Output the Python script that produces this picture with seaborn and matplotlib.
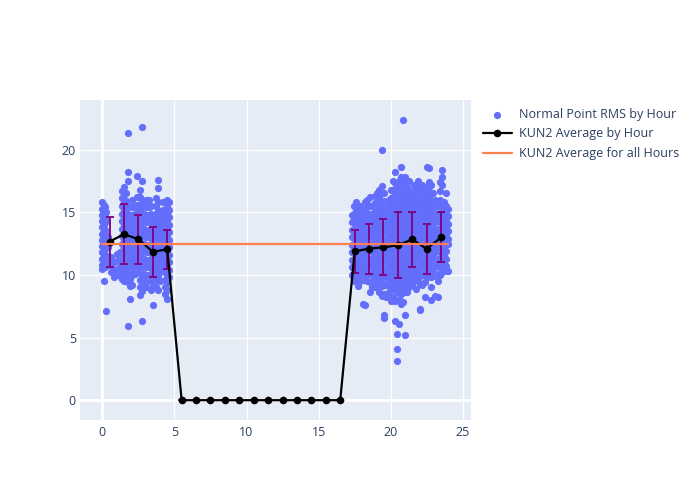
import matplotlib
matplotlib.use("Agg")
import matplotlib.pyplot as plt
import seaborn as sns
import numpy as np
import pandas as pd

# ---------------- data ----------------
# Normal point RMS, grouped in columns of nearly equal hour
cluster1_hours = [0.00, 0.08, 0.16, 0.26, 0.38, 0.60, 0.80, 1.00, 1.20, 1.35,
                  1.48, 1.62, 1.78, 1.92, 2.08, 2.25, 2.42, 2.58, 2.74, 2.90,
                  3.06, 3.22, 3.38, 3.54, 3.70, 3.86, 4.02, 4.18, 4.34, 4.50, 4.64]
cluster1_rms = [
    [15.8, 15.3, 14.8, 14.3, 13.8, 13.3, 12.8, 12.3, 11.8, 11.3, 10.8, 10.5],
    [15.6, 15.0, 14.5, 14.0, 13.5, 13.0, 12.5, 12.0, 11.5, 11.0, 9.5],
    [15.4, 14.7, 14.2, 13.6, 13.1, 12.6, 12.1, 11.6, 11.1, 10.6],
    [15.0, 14.3, 13.3, 12.4, 11.4, 10.9, 7.1],
    [13.0, 12.2, 11.5, 10.8],
    [11.4, 10.8, 10.2],
    [11.0, 10.4, 9.8],
    [11.7, 11.1, 10.5, 10.0],
    [11.8, 11.2, 10.6, 10.1],
    [16.7, 16.1, 15.5, 14.9, 14.3, 13.7, 13.1, 12.5, 11.9, 11.3, 10.7, 10.1, 9.7],
    [17.0, 16.4, 15.8, 15.2, 14.6, 14.0, 13.4, 12.8, 12.2, 11.6, 11.0, 10.4, 9.5],
    [16.5, 15.9, 15.3, 14.7, 14.1, 13.5, 12.9, 12.3, 11.7, 11.1, 10.5, 9.9],
    [18.2, 17.5, 15.5, 14.9, 14.3, 13.7, 13.1, 12.5, 11.9, 11.3, 10.7, 10.1, 9.4, 21.3, 5.9],
    [14.5, 13.9, 13.3, 12.7, 12.1, 11.5, 10.9, 10.3, 9.7, 9.1, 8.1],
    [16.0, 15.4, 14.8, 14.2, 13.6, 13.0, 12.4, 11.8, 11.2, 10.6, 10.0, 9.2],
    [15.5, 14.9, 14.3, 13.7, 13.1, 12.5, 11.9, 11.3, 10.7, 10.1],
    [17.9, 16.2, 15.6, 15.0, 14.4, 13.8, 13.2, 12.6, 12.0, 11.4, 10.8, 10.3],
    [16.8, 16.2, 15.6, 15.0, 14.4, 13.8, 13.2, 12.6, 12.0, 11.4, 10.8, 10.2, 9.6, 9.0, 8.4],
    [17.5, 16.0, 15.4, 14.8, 14.2, 13.6, 13.0, 12.4, 11.8, 11.2, 10.6, 10.0, 9.4, 8.7, 21.8, 6.3],
    [15.5, 14.9, 14.3, 13.7, 13.1, 12.5, 11.9, 11.3, 10.7, 10.1, 9.5],
    [16.0, 15.4, 14.8, 14.2, 13.6, 13.0, 12.4, 11.8, 11.2, 10.6, 10.0, 9.4, 9.0],
    [16.0, 15.4, 14.8, 14.2, 13.6, 13.0, 12.4, 11.8, 11.2, 10.6, 10.0],
    [15.5, 14.9, 14.3, 13.7, 13.1, 12.5, 11.9, 11.3, 10.7, 10.1, 9.5, 8.8],
    [14.5, 13.9, 13.3, 12.7, 12.1, 11.5, 10.9, 10.3, 9.7, 9.1, 7.6],
    [16.1, 15.5, 14.9, 14.3, 13.7, 13.1, 12.5, 11.9, 11.3, 10.7, 10.1, 9.5, 9.0],
    [17.6, 16.9, 15.8, 15.2, 14.6, 14.0, 13.4, 12.8, 12.2, 11.6, 11.0, 10.4, 9.8, 8.8],
    [15.0, 14.4, 13.8, 13.2, 12.6, 12.0, 11.4, 10.8, 10.2, 9.5],
    [15.8, 15.2, 14.6, 14.0, 13.4, 12.8, 12.2, 11.6, 11.0, 10.4],
    [15.0, 14.4, 13.8, 13.2, 12.6, 12.0, 11.4, 10.8, 10.2, 9.6, 9.0, 8.5],
    [16.0, 15.4, 14.8, 14.2, 13.6, 13.0, 12.4, 11.8, 11.2, 10.6, 10.0, 9.4, 8.8, 8.1],
    [15.8, 15.2, 14.6, 14.0, 13.4, 12.8, 12.2, 11.6, 11.0, 10.4, 9.8],
]

cluster2_hours = [17.30, 17.45, 17.60, 17.75, 17.90, 18.05, 18.20, 18.38, 18.55, 18.72,
                  18.90, 19.05, 19.22, 19.40, 19.55, 19.70, 19.85, 20.00, 20.15, 20.30,
                  20.42, 20.55, 20.70, 20.85, 21.00, 21.15, 21.30, 21.45, 21.60, 21.75,
                  21.90, 22.05, 22.20, 22.35, 22.50, 22.65, 22.80, 22.95, 23.10, 23.25,
                  23.40, 23.55, 23.70, 23.85, 24.00]
cluster2_rms = [
    [14.8, 14.2, 13.6, 13.0, 12.4, 11.8, 11.2, 10.6, 10.0],
    [15.5, 14.9, 14.3, 13.7, 13.1, 12.5, 11.9, 11.3, 10.7, 10.1, 9.5],
    [15.8, 15.1, 14.5, 13.9, 13.3, 12.7, 12.1, 11.5, 10.9, 10.3, 9.8],
    [15.2, 14.6, 14.0, 13.4, 12.8, 12.2, 11.6, 11.0, 10.4, 9.8, 9.1],
    [15.5, 14.8, 14.2, 13.6, 13.0, 12.4, 11.8, 11.2, 10.6, 10.0, 9.5],
    [15.0, 14.4, 13.8, 13.2, 12.6, 12.0, 11.4, 10.8, 10.2, 9.6, 7.7],
    [15.8, 15.1, 14.5, 13.9, 13.3, 12.7, 12.1, 11.5, 10.9, 10.3, 9.7, 7.6],
    [16.0, 15.4, 14.8, 14.2, 13.6, 13.0, 12.4, 11.8, 11.2, 10.6, 10.0, 9.5],
    [16.2, 15.5, 14.9, 14.3, 13.7, 13.1, 12.5, 11.9, 11.3, 10.7, 10.1, 9.4, 8.6],
    [15.5, 14.8, 14.2, 13.6, 13.0, 12.4, 11.8, 11.2, 10.6, 10.0, 9.4, 9.0],
    [16.3, 15.7, 15.1, 14.5, 13.9, 13.3, 12.7, 12.1, 11.5, 10.9, 10.3, 9.7, 9.0],
    [16.5, 15.8, 15.2, 14.6, 14.0, 13.4, 12.8, 12.2, 11.6, 11.0, 10.4, 9.8, 9.2],
    [16.8, 16.2, 15.5, 14.9, 14.3, 13.7, 13.1, 12.5, 11.9, 11.3, 10.7, 10.1, 9.5, 8.6],
    [17.1, 16.5, 15.8, 15.2, 14.6, 14.0, 13.4, 12.8, 12.2, 11.6, 11.0, 10.4, 9.8, 9.1, 8.3, 20.0],
    [16.5, 15.9, 15.3, 14.7, 14.1, 13.5, 12.9, 12.3, 11.7, 11.1, 10.5, 9.9, 9.3, 8.5, 6.6, 6.8],
    [15.8, 15.2, 14.6, 14.0, 13.4, 12.8, 12.2, 11.6, 11.0, 10.4, 9.8, 9.2, 8.2],
    [16.0, 15.4, 14.8, 14.2, 13.6, 13.0, 12.4, 11.8, 11.2, 10.6, 10.0, 9.4, 8.6],
    [16.8, 16.1, 15.5, 14.9, 14.3, 13.7, 13.1, 12.5, 11.9, 11.3, 10.7, 10.1, 9.5, 8.9, 7.9],
    [17.5, 16.8, 16.2, 15.6, 15.0, 14.4, 13.8, 13.2, 12.6, 12.0, 11.4, 10.8, 10.2, 9.6, 9.0, 8.2],
    [18.2, 17.3, 16.6, 16.0, 15.4, 14.8, 14.2, 13.6, 13.0, 12.4, 11.8, 11.2, 10.6, 10.0, 9.4, 8.8, 7.9, 6.3],
    [17.0, 16.4, 15.8, 15.2, 14.6, 14.0, 13.4, 12.8, 12.2, 11.6, 11.0, 10.4, 9.8, 9.2, 8.6, 3.1, 4.1, 5.3],
    [17.5, 16.9, 16.2, 15.6, 15.0, 14.4, 13.8, 13.2, 12.6, 12.0, 11.4, 10.8, 10.2, 9.6, 9.0, 8.1, 6.1],
    [18.6, 17.8, 17.1, 16.4, 15.8, 15.2, 14.6, 14.0, 13.4, 12.8, 12.2, 11.6, 11.0, 10.4, 9.8, 9.2, 8.5, 7.7],
    [17.3, 16.6, 16.0, 15.4, 14.8, 14.2, 13.6, 13.0, 12.4, 11.8, 11.2, 10.6, 10.0, 9.4, 8.8, 7.8, 22.4],
    [17.8, 17.2, 16.5, 15.9, 15.3, 14.7, 14.1, 13.5, 12.9, 12.3, 11.7, 11.1, 10.5, 9.9, 9.3, 8.6, 5.2, 6.8],
    [17.0, 16.3, 15.7, 15.1, 14.5, 13.9, 13.3, 12.7, 12.1, 11.5, 10.9, 10.3, 9.7, 9.1, 8.6],
    [17.5, 16.8, 16.2, 15.6, 15.0, 14.4, 13.8, 13.2, 12.6, 12.0, 11.4, 10.8, 10.2, 9.6, 9.0],
    [16.5, 15.9, 15.3, 14.7, 14.1, 13.5, 12.9, 12.3, 11.7, 11.1, 10.5, 9.9, 9.2],
    [17.2, 16.6, 16.0, 15.4, 14.8, 14.2, 13.6, 13.0, 12.4, 11.8, 11.2, 10.6, 10.0, 9.5],
    [16.8, 16.2, 15.6, 15.0, 14.4, 13.8, 13.2, 12.6, 12.0, 11.4, 10.8, 10.2, 9.6, 8.9],
    [17.5, 16.9, 16.3, 15.7, 15.1, 14.5, 13.9, 13.3, 12.7, 12.1, 11.5, 10.9, 10.3, 9.7],
    [16.5, 15.9, 15.3, 14.7, 14.1, 13.5, 12.9, 12.3, 11.7, 11.1, 10.5, 9.9, 9.3, 7.3, 7.2],
    [17.2, 16.6, 16.0, 15.4, 14.8, 14.2, 13.6, 13.0, 12.4, 11.8, 11.2, 10.6, 10.0, 9.2],
    [16.8, 16.1, 15.5, 14.9, 14.3, 13.7, 13.1, 12.5, 11.9, 11.3, 10.7, 10.1, 9.4, 8.2],
    [18.6, 17.0, 16.4, 15.8, 15.2, 14.6, 14.0, 13.4, 12.8, 12.2, 11.6, 11.0, 10.4, 9.8],
    [18.5, 17.4, 16.7, 16.1, 15.5, 14.9, 14.3, 13.7, 13.1, 12.5, 11.9, 11.3, 10.7, 10.1],
    [17.2, 16.5, 15.9, 15.3, 14.7, 14.1, 13.5, 12.9, 12.3, 11.7, 11.1, 10.5, 9.8, 9.0, 8.0],
    [16.5, 15.9, 15.3, 14.7, 14.1, 13.5, 12.9, 12.3, 11.7, 11.1, 10.5, 9.9],
    [16.0, 15.4, 14.8, 14.2, 13.6, 13.0, 12.4, 11.8, 11.2, 10.6, 10.0, 8.3],
    [15.5, 14.9, 14.3, 13.7, 13.1, 12.5, 11.9, 11.3, 10.7, 10.1, 9.5, 8.2],
    [17.4, 16.7, 16.0, 15.4, 14.8, 14.2, 13.6, 13.0, 12.4, 11.8, 11.2, 10.6, 10.0],
    [18.4, 17.8, 17.2, 15.6, 15.0, 14.4, 13.8, 13.2, 12.6, 12.0, 11.4, 10.8, 10.2],
    [15.8, 15.2, 14.6, 14.0, 13.4, 12.8, 12.2, 11.6, 11.0],
    [16.5, 15.5, 14.9, 14.3, 13.7, 13.1, 12.5, 11.9, 11.3, 10.7, 10.3],
    [15.3, 14.7, 14.1, 13.5, 12.9, 12.5, 10.3],
]

# Hourly averages and standard deviations
avg_hours = [0.5, 1.5, 2.5, 3.5, 4.5, 5.5, 6.5, 7.5, 8.5, 9.5, 10.5, 11.5,
             12.5, 13.5, 14.5, 15.5, 16.5, 17.5, 18.5, 19.5, 20.5, 21.5, 22.5, 23.5]
avg_rms = [12.66, 13.25, 12.85, 11.84, 12.05, 0, 0, 0, 0, 0, 0, 0,
           0, 0, 0, 0, 0, 11.87, 12.10, 12.20, 12.37, 12.83, 12.08, 13.00]
std_rms = [2.00, 2.40, 1.95, 2.02, 1.56, 0, 0, 0, 0, 0, 0, 0,
           0, 0, 0, 0, 0, 1.72, 2.00, 2.24, 2.63, 2.16, 2.02, 2.00]

overall_avg = 12.43

x_ticks = [0, 5, 10, 15, 20, 25]
y_ticks = [0, 5, 10, 15, 20]

series_labels = ["Normal Point RMS by Hour", "KUN2 Average by Hour", "KUN2 Average for all Hours"]

# ---------------- build tables ----------------
pts_h, pts_v = [], []
for hrs, vals in ((cluster1_hours, cluster1_rms), (cluster2_hours, cluster2_rms)):
    for h, col in zip(hrs, vals):
        pts_h.extend([h] * len(col))
        pts_v.extend(col)
points = pd.DataFrame({"hour": pts_h, "rms": pts_v})
avg_df = pd.DataFrame({"hour": avg_hours, "rms": avg_rms, "std": std_rms})
overall_df = pd.DataFrame({"hour": [min(pts_h), max(pts_h)], "rms": [overall_avg, overall_avg]})

# ---------------- style ----------------
sns.set_style("darkgrid", {"axes.facecolor": "#E5ECF6", "grid.color": "white"})
plt.rcParams["font.family"] = ["Open Sans", "DejaVu Sans"]
txt_color = "#2a3f5f"

fig = plt.figure(figsize=(7, 5), dpi=100)
ax = fig.add_axes([80 / 700, 80 / 500, 391 / 700, 320 / 500])
ax.set_facecolor("#E5ECF6")

sns.scatterplot(data=points, x="hour", y="rms", ax=ax, color="#636EFA", s=27,
                linewidth=0, alpha=1.0, label=series_labels[0], zorder=2)
ax.errorbar(avg_df["hour"], avg_df["rms"], yerr=avg_df["std"], fmt="none",
            ecolor="#800080", elinewidth=1.3, capsize=3.2, capthick=1.3, zorder=3)
sns.lineplot(data=avg_df, x="hour", y="rms", ax=ax, color="black", linewidth=1.6,
             marker="o", markersize=5.5, markeredgewidth=0, label=series_labels[1],
             zorder=4, sort=False)
sns.lineplot(data=overall_df, x="hour", y="rms", ax=ax, color="#FF7F50", linewidth=1.6,
             label=series_labels[2], zorder=5, sort=False)

ax.set_xlim(-1.55, 25.57)
ax.set_ylim(-1.58, 23.96)
ax.set_xticks(x_ticks)
ax.set_yticks(y_ticks)
ax.grid(True, color="white", linewidth=1.0)
ax.axhline(0, color="white", linewidth=2.0, zorder=1)
ax.axvline(0, color="white", linewidth=2.0, zorder=1)
ax.set_axisbelow(True)
for s in ax.spines.values():
    s.set_visible(False)
ax.tick_params(axis="both", length=0, labelsize=9, colors=txt_color)
ax.tick_params(axis="x", pad=4)
ax.tick_params(axis="y", pad=3)
ax.set_xlabel("")
ax.set_ylabel("")

handles, labels = ax.get_legend_handles_labels()
ax.legend_.remove()
fig.legend(handles, labels, loc="upper left", bbox_to_anchor=(483 / 700, 1 - 108 / 500),
           frameon=False, fontsize=9, labelcolor=txt_color, handlelength=2.3,
           handletextpad=0.6, labelspacing=0.52, borderpad=0, borderaxespad=0)

fig.savefig("out.png", dpi=100, facecolor="white")
